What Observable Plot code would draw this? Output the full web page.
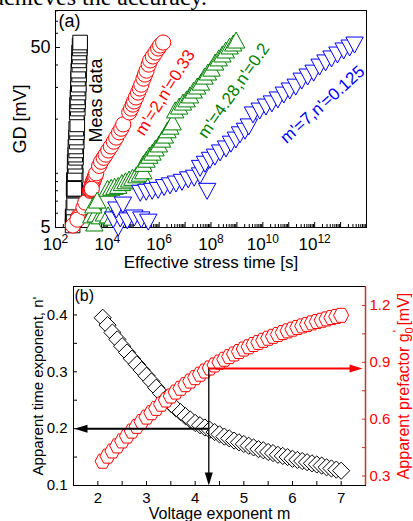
<!DOCTYPE html>
<html><head><meta charset="utf-8">
<script src="https://cdn.jsdelivr.net/npm/d3@7"></script>
<script src="https://cdn.jsdelivr.net/npm/@observablehq/plot@0.6"></script>
<style>
html,body{margin:0;padding:0;background:#fff}
body{width:413px;height:521px;overflow:hidden;position:relative;font-family:"Liberation Sans",Arial,sans-serif}
#top{position:absolute;right:206px;top:-16px;font-family:"Liberation Serif","Times New Roman",serif;font-size:24px;line-height:27px;white-space:nowrap;color:#000}
#a{position:absolute;left:0;top:0}
#b{position:absolute;left:0;top:256px}
svg{overflow:visible}
</style></head><body>
<div id="top">achieves the accuracy.</div>
<div id="a"></div><div id="b"></div>
<script>
// ---------- Panel (a) data ----------
const gd = [5.13,
  5.69, 5.76, 5.62, 5.83, 5.69, 5.53,
  6.46, 6.88,
  8.0, 8.1, 8.2, 8.3, 8.6, 8.8, 9.0, 9.2, 9.5, 9.7, 10.0, 8.2,
  11.0, 11.6, 12.2, 12.7, 13.4, 14.1, 15.0, 15.8, 16.9, 17.7, 18.7,
  21.8, 22.9, 24.1, 25.1, 26.4, 28.1, 29.6, 31.1, 33.6, 35.4, 37.2, 40.2, 42.4, 44.6, 46.9, 49.4, 51.3, 53.3];
const logtMeas = [2.66,
  2.70, 2.66, 2.69, 2.72, 2.67, 2.70,
  2.69, 2.72,
  2.71, 2.74, 2.70, 2.73, 2.76, 2.72, 2.74, 2.71, 2.75, 2.78, 2.74, 2.73,
  2.77, 2.74, 2.79, 2.76, 2.80, 2.77, 2.82, 2.79, 2.83, 2.80, 2.84,
  2.82, 2.86, 2.83, 2.87, 2.85, 2.89, 2.86, 2.90, 2.87, 2.91, 2.88, 2.92, 2.90, 2.93, 2.91, 2.94, 2.93, 2.95];
const logtM2 = [2.67,
  2.885, 2.904, 2.865, 2.923, 2.885, 2.846,
  3.08, 3.15,
  3.335, 3.346, 3.358, 3.373, 3.396, 3.423, 3.45, 3.477, 3.508, 3.538, 3.569, 3.40,
  3.685, 3.758, 3.858, 3.935, 4.038, 4.138, 4.25, 4.342, 4.454, 4.538, 4.615,
  4.846, 4.919, 4.985, 5.035, 5.104, 5.185, 5.254, 5.312, 5.396, 5.454, 5.512, 5.596, 5.654, 5.758, 5.858, 5.962, 6.038, 6.154];
const logtM428 = [3.50,
  3.38, 3.55, 3.71, 3.87, 4.03, 4.19,
  3.46, 3.61,
  4.01, 4.15, 4.28, 4.42, 4.56, 4.70, 4.84, 4.97, 5.12, 5.26, 5.39, 5.56,
  5.39, 5.51, 5.62, 5.74, 5.86, 5.99, 6.11, 6.22, 6.32, 6.43, 6.52,
  6.62, 6.77, 6.92, 7.06, 7.19, 7.33, 7.47, 7.61, 7.75, 7.88, 8.02, 8.16, 8.30, 8.44, 8.57, 8.72, 8.86, 8.97];
const logtM7 = [4.42,
  4.23, 4.50, 4.77, 5.04, 5.31, 5.58,
  4.35, 4.60,
  5.27, 5.50, 5.73, 5.96, 6.19, 6.42, 6.65, 6.88, 7.12, 7.35, 7.58, 7.85,
  7.58, 7.77, 7.96, 8.15, 8.35, 8.58, 8.77, 8.96, 9.12, 9.31, 9.46,
  9.62, 9.88, 10.12, 10.35, 10.58, 10.81, 11.04, 11.27, 11.50, 11.73, 11.96, 12.19, 12.42, 12.65, 12.88, 13.12, 13.35, 13.54];
const xTicksA = [1e2, 1e4, 1e6, 1e8, 1e10, 1e12];
const yTicksA = [5, 50];
const seriesLabels = ["Meas data", "m'=2,n'=0.33", "m'=4.28,n'=0.2", "m'=7,n'=0.125"];

// ---------- Panel (b) data ----------
const mVals = [2.1,2.2,2.3,2.4,2.5,2.6,2.7,2.8,2.9,3.0,3.1,3.2,3.3,3.4,3.5,3.6,3.7,3.8,3.9,4.0,
  4.1,4.2,4.3,4.4,4.5,4.6,4.7,4.8,4.9,5.0,5.1,5.2,5.3,5.4,5.5,5.6,5.7,5.8,5.9,6.0,
  6.1,6.2,6.3,6.4,6.5,6.6,6.7,6.8,6.9,7.0];
const nPrime = [0.395,0.382,0.369,0.357,0.345,0.334,0.323,0.313,0.303,0.293,0.283,0.272,0.262,0.253,0.244,0.236,0.229,0.222,0.216,0.210,
  0.206,0.202,0.198,0.194,0.190,0.186,0.183,0.179,0.176,0.173,0.170,0.167,0.164,0.162,0.159,0.157,0.154,0.152,0.150,0.147,
  0.145,0.143,0.141,0.139,0.137,0.135,0.132,0.130,0.128,0.126];
const g0Prime = [0.378,0.405,0.432,0.459,0.485,0.511,0.537,0.562,0.587,0.611,0.634,0.657,0.679,0.701,0.722,0.743,0.763,0.782,0.801,0.819,
  0.837,0.854,0.870,0.886,0.901,0.916,0.930,0.944,0.957,0.970,0.982,0.994,1.005,1.016,1.027,1.037,1.047,1.057,1.066,1.075,
  1.084,1.092,1.100,1.108,1.115,1.122,1.129,1.136,1.142,1.148];
const xTicksB = [2, 3, 4, 5, 6, 7];
const yTicksBL = [0.1, 0.2, 0.3, 0.4];
const yTicksBR = [0.3, 0.6, 0.9, 1.2];
const mStar = 4.28, nStar = 0.2, gStar = 0.867;

// ---------- helpers ----------
const FONT = "'Liberation Sans', Arial, sans-serif";
const RED = "#ff0000", GREEN = "#008000", BLUE = "#0000ff", RAXIS = "#c83232";
function poly(pts){ return {draw(ctx){ ctx.moveTo(pts[0][0], pts[0][1]); for (let i = 1; i < pts.length; i++) ctx.lineTo(pts[i][0], pts[i][1]); ctx.closePath(); }}; }
function circ(r){ return {draw(ctx){ ctx.moveTo(r, 0); ctx.arc(0, 0, r, 0, 2*Math.PI); ctx.closePath(); }}; }
const symSquare = poly([[-7.3,-7.3],[7.3,-7.3],[7.3,7.3],[-7.3,7.3]]);
const symCircle = circ(7.6);
const symTriUp = poly([[0,-10.5],[8.7,5.5],[-8.7,5.5]]);
const symTriDown = poly([[0,10.5],[8.7,-5.5],[-8.7,-5.5]]);
const symDiamond = poly([[0,-8.6],[8.6,0],[0,8.6],[-8.6,0]]);
const symHex = poly([[-7.6,0],[-3.9,-7],[3.9,-7],[7.6,0],[3.9,7],[-3.9,7]]);
const headLeft = poly([[0,0],[13,-4],[13,4]]);
const headRight = poly([[0,0],[-13,-4],[-13,4]]);
const headDown = poly([[0,0],[4,-13],[-4,-13]]);

const mk = arr => gd.map((g, i) => ({t: Math.pow(10, arr[i]), gd: g}));
const dMeas = mk(logtMeas), dM2 = mk(logtM2), dM428 = mk(logtM428), dM7 = mk(logtM7);

const minorX = []; for (let d = 2; d < 14; d++) for (let k = 2; k < 10; k++) minorX.push(k * Math.pow(10, d));
const decX = d3.range(2, 15).map(d => Math.pow(10, d));
const minorY = [6, 7, 8, 9, 10, 20, 30, 40, 60, 70, 80];

const pa = Plot.plot({
  width: 413, height: 256,
  marginLeft: 55, marginRight: 47, marginTop: 10, marginBottom: 29,
  style: {fontFamily: FONT, fontSize: "17px", background: "transparent", color: "black"},
  x: {type: "log", domain: [1e2, 1e14]},
  y: {type: "log", domain: [5, 80.3]},
  marks: [
    Plot.axisX({ticks: minorX, tickSize: -3, tickFormat: () => "", label: null}),
    Plot.axisX({ticks: decX, tickSize: -5, tickFormat: () => "", label: null}),
    Plot.axisX({ticks: xTicksA, tickSize: 0, tickPadding: 10, fontSize: 17, tickFormat: d => "10^" + Math.round(Math.log10(d)), label: null}),
    Plot.axisY({ticks: minorY, tickSize: -3, tickFormat: () => "", label: null}),
    Plot.axisY({ticks: yTicksA, tickSize: -5, tickPadding: 10, fontSize: 18, tickFormat: d => String(d), label: null}),
    Plot.frame({stroke: "black"}),
    Plot.dot(dMeas, {x: "t", y: "gd", symbol: symSquare, fill: "white", stroke: "black", strokeWidth: 1}),
    Plot.dot(dM2, {x: "t", y: "gd", symbol: symCircle, fill: "white", stroke: RED, strokeWidth: 1}),
    Plot.dot(dM428, {x: "t", y: "gd", symbol: symTriUp, fill: "white", stroke: GREEN, strokeWidth: 1}),
    Plot.dot(dM7, {x: "t", y: "gd", symbol: symTriDown, fill: "white", stroke: BLUE, strokeWidth: 1}),
    Plot.text([seriesLabels[0]], {x: [3776], y: [25.4], rotate: -90, fontSize: 18, fill: "black", textAnchor: "middle", lineAnchor: "middle"}),
    Plot.text([seriesLabels[1]], {x: [1.7e6], y: [28.1], rotate: -58, fontSize: 17, fill: RED, textAnchor: "middle", lineAnchor: "middle"}),
    Plot.text([seriesLabels[2]], {x: [7.6e8], y: [28.8], rotate: -55, fontSize: 17, fill: GREEN, textAnchor: "middle", lineAnchor: "middle"}),
    Plot.text([seriesLabels[3]], {x: [2.0e12], y: [24.1], rotate: -42, fontSize: 17, fill: BLUE, textAnchor: "middle", lineAnchor: "middle"}),
    Plot.text(["(a)"], {frameAnchor: "top-left", dx: 3, dy: 4, lineAnchor: "top", textAnchor: "start", fontSize: 18}),
    Plot.text(["Effective stress time [s]"], {frameAnchor: "bottom", dy: 35, textAnchor: "middle", lineAnchor: "middle", fontSize: 17}),
    Plot.text(["GD [mV]"], {frameAnchor: "left", dx: -35, rotate: -90, textAnchor: "middle", lineAnchor: "middle", fontSize: 18})
  ]
});
document.getElementById("a").appendChild(pa);

const NS = "http://www.w3.org/2000/svg";
function tsp(txt, attrs){ const s = document.createElementNS(NS, "tspan"); s.textContent = txt; for (const k in attrs) s.setAttribute(k, attrs[k]); return s; }
pa.querySelectorAll("text").forEach(t => {
  const m = t.textContent.match(/^10\^(\d+)$/);
  if (m) { t.textContent = ""; t.appendChild(tsp("10", {})); t.appendChild(tsp(m[1], {dy: "-7", "font-size": "12"})); }
});

// ---------- Panel (b) ----------
const toL = g => 0.1 + (g - 0.25) * 0.35 / 1.05;
const fromL = v => 0.25 + (v - 0.1) * 1.05 / 0.35;
const dB = mVals.map((m, i) => ({m, n: nPrime[i], g: g0Prime[i]}));
const pb = Plot.plot({
  width: 413, height: 265,
  marginLeft: 73, marginRight: 48, marginTop: 30, marginBottom: 36,
  style: {fontFamily: FONT, fontSize: "15px", background: "transparent", color: "black"},
  x: {domain: [1.5, 7.5]},
  y: {domain: [0.1, 0.45]},
  marks: [
    Plot.axisX({ticks: d3.range(1.5, 7.51, 0.5), tickSize: -4, tickFormat: () => "", label: null}),
    Plot.axisX({ticks: xTicksB, tickSize: 0, tickPadding: 7, fontSize: 15, tickFormat: d => String(d), label: null}),
    Plot.axisY({ticks: d3.range(0.1, 0.451, 0.05), tickSize: -4, tickFormat: () => "", label: null}),
    Plot.axisY({ticks: yTicksBL, tickSize: 0, tickPadding: 6, fontSize: 15, tickFormat: d => d.toFixed(1), label: null}),
    Plot.axisY({anchor: "right", ticks: d3.range(0.3, 1.21, 0.15).map(toL), tickSize: -4, tickFormat: () => "", color: RAXIS, label: null}),
    Plot.axisY({anchor: "right", ticks: yTicksBR.map(toL), tickSize: 0, tickPadding: 4, fontSize: 15, tickFormat: v => fromL(v).toFixed(1), color: RED, label: null}),
    Plot.frame({stroke: "black"}),
    Plot.ruleX([7.5], {stroke: RAXIS, strokeWidth: 1.5}),
    Plot.dot(dB, {x: "m", y: "n", symbol: symDiamond, fill: "white", stroke: "black", strokeWidth: 1}),
    Plot.dot(dB, {x: "m", y: d => toL(d.g), symbol: symHex, fill: "white", stroke: RED, strokeWidth: 1}),
    Plot.ruleX([mStar], {y1: toL(gStar), y2: 0.105, stroke: "black", strokeWidth: 1.3}),
    Plot.ruleY([nStar], {x1: mStar, x2: 1.6, stroke: "black", strokeWidth: 2}),
    Plot.ruleY([toL(gStar)], {x1: mStar, x2: 7.3, stroke: RED, strokeWidth: 2}),
    Plot.dot([{x: 1.52, y: nStar}], {x: "x", y: "y", symbol: headLeft, fill: "black", stroke: "none"}),
    Plot.dot([{x: mStar, y: 0.1}], {x: "x", y: "y", symbol: headDown, fill: "black", stroke: "none"}),
    Plot.dot([{x: 7.44, y: toL(gStar)}], {x: "x", y: "y", symbol: headRight, fill: RED, stroke: "none"}),
    Plot.text(["(b)"], {frameAnchor: "top-left", dx: 1, dy: 3, lineAnchor: "top", textAnchor: "start", fontSize: 16}),
    Plot.text(["Voltage exponent m"], {frameAnchor: "bottom", dy: 28, textAnchor: "middle", lineAnchor: "middle", fontSize: 16}),
    Plot.text(["Apparent time exponent, n'"], {frameAnchor: "left", dx: -35, rotate: -90, textAnchor: "middle", lineAnchor: "middle", fontSize: 15}),
    Plot.text(["Apparent prefactor g0' [mV]"], {frameAnchor: "right", dx: 38, rotate: -90, textAnchor: "middle", lineAnchor: "middle", fontSize: 16, fill: RED})
  ]
});
document.getElementById("b").appendChild(pb);
pb.querySelectorAll("text").forEach(t => {
  if (t.textContent === "Apparent prefactor g0' [mV]") {
    t.textContent = "";
    t.appendChild(tsp("Apparent prefactor g", {}));
    t.appendChild(tsp("0", {dy: "4", "font-size": "11"}));
    t.appendChild(tsp("'", {dy: "-11", dx: "-5", "font-size": "12"}));
    t.appendChild(tsp(" [mV]", {dy: "7"}));
  }
});
</script>
</body></html>
